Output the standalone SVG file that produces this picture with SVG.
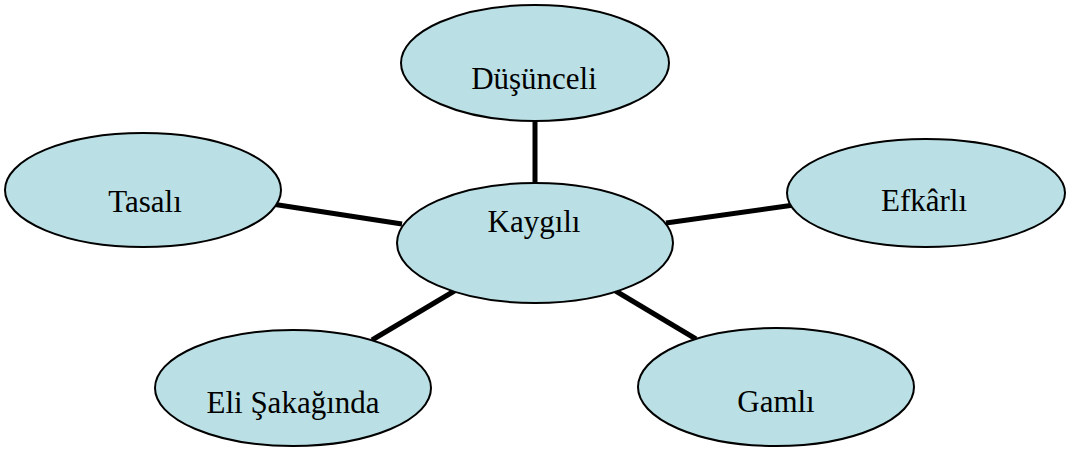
<svg xmlns="http://www.w3.org/2000/svg" width="1069" height="453" viewBox="0 0 1069 453">
<style>
.n ellipse{fill:#bae0e5;stroke:#000;stroke-width:2}
.n text{font-family:"Liberation Serif","Times New Roman",serif;font-size:31px;fill:#000;text-anchor:middle}
.c line{stroke:#000;stroke-width:5}
</style>
<rect width="1069" height="453" fill="#fff"/>
<g id="connectors" class="c">
<line x1="535" y1="120" x2="535" y2="185"/>
<line x1="272" y1="204" x2="402" y2="224"/>
<line x1="666" y1="223" x2="794" y2="205"/>
<line x1="456" y1="290" x2="372" y2="340"/>
<line x1="614" y1="290" x2="696" y2="339"/>
</g>
<g id="node-dusunceli" class="n"><ellipse cx="535" cy="63" rx="134" ry="58"/><text x="534" y="89">Düşünceli</text></g>
<g id="node-tasali" class="n"><ellipse cx="143" cy="190" rx="138" ry="57"/><text x="145" y="212">Tasalı</text></g>
<g id="node-kaygili" class="n"><ellipse cx="535" cy="243" rx="138" ry="60"/><text x="534" y="232">Kaygılı</text></g>
<g id="node-efkarli" class="n"><ellipse cx="926" cy="193" rx="139" ry="54"/><text x="924" y="211">Efkârlı</text></g>
<g id="node-eli" class="n"><ellipse cx="293" cy="388" rx="138" ry="58"/><text x="293" y="413">Eli Şakağında</text></g>
<g id="node-gamli" class="n"><ellipse cx="776" cy="387" rx="138" ry="59"/><text x="776" y="412">Gamlı</text></g>
</svg>
